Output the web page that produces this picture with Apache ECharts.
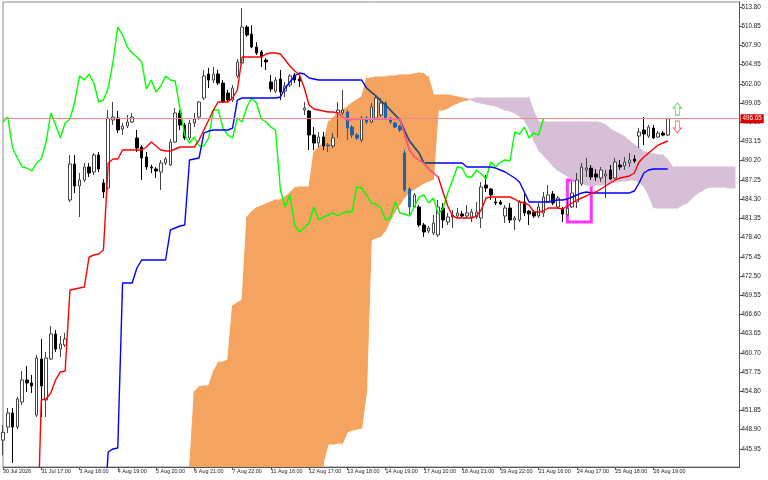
<!DOCTYPE html>
<html><head><meta charset="utf-8">
<script src="https://cdn.jsdelivr.net/npm/echarts@6/dist/echarts.min.js"></script>
<style>html,body{margin:0;padding:0;background:#fff}#c{width:768px;height:480px}</style>
</head><body><div id="c"></div>
<script>
// ---- tick labels ----
const tickLabels = ['30 Jul 2026','31 Jul 17:00','3 Aug 18:00','4 Aug 19:00','5 Aug 20:00','6 Aug 21:00','7 Aug 22:00','11 Aug 16:00','12 Aug 17:00','13 Aug 18:00','14 Aug 19:00','17 Aug 20:00','18 Aug 21:00','19 Aug 22:00','21 Aug 16:00','24 Aug 17:00','25 Aug 18:00','26 Aug 19:00'];
const yTicks = [513.80,510.85,507.90,504.95,502.00,499.05,496.10,493.15,490.20,487.25,484.30,481.35,478.40,475.45,472.50,469.55,466.60,463.65,460.70,457.75,454.80,451.85,448.90,445.95];
const lastPrice = 496.65;

// ---- candles (bars 0..139) ----
const opens = [447.3,449.31,451.47,449.31,453.16,456.54,456.08,451.16,459.76,453.47,459.76,463.60,461.29,461.91,484.17,489.70,486.32,487.24,489.24,488.47,491.08,486.78,486.01,496.45,496.76,495.07,495.53,496.15,493.69,492.31,490.78,489.24,488.93,488.47,489.85,489.54,493.07,497.53,495.68,493.69,495.99,496.91,499.83,503.51,502.59,503.51,502.13,500.60,499.52,503.21,505.20,510.73,509.66,507.66,506.89,505.66,502.29,500.90,502.75,500.90,501.83,503.36,502.75,497.99,497.83,494.15,492.92,493.84,492.61,492.46,497.53,497.53,497.68,495.37,494.15,493.38,496.76,496.15,496.76,497.22,499.06,496.76,495.99,495.53,491.39,485.86,483.10,483.10,480.33,479.41,479.11,478.80,482.94,480.79,481.56,481.71,482.02,481.71,481.56,481.56,481.41,486.47,485.86,483.86,483.86,481.71,482.94,481.10,481.10,483.86,482.48,482.33,481.71,482.18,483.86,485.09,483.10,482.79,481.90,483.10,483.86,486.62,488.78,489.08,488.16,487.55,487.86,488.78,487.55,489.54,489.39,489.85,490.47,493.99,494.92,493.99,495.22,493.84,494.45,494.15];
const highs = [449.6,452.24,452.24,453.93,457.92,458.69,457.31,460.37,462.83,460.84,464.83,464.21,463.29,463.75,491.08,491.08,488.32,489.85,489.85,491.39,491.54,487.39,497.99,499.22,497.83,495.99,497.22,497.53,494.92,492.60,491.54,489.60,489.24,490.31,490.78,493.53,498.29,497.99,495.99,496.45,497.53,499.37,504.13,504.43,504.60,504.13,502.59,501.06,501.83,505.82,513.65,511.00,511.00,508.40,507.20,505.97,503.36,503.05,504.13,502.29,503.51,503.67,503.40,499.22,497.99,495.37,494.61,494.61,492.92,494.45,499.22,501.06,497.99,495.68,494.45,497.07,497.07,499.06,500.14,499.83,499.37,496.91,496.15,495.68,491.85,486.17,485.25,483.40,480.64,480.18,481.87,484.17,483.71,482.18,482.64,482.94,482.48,483.40,482.79,483.86,486.93,488.01,486.01,484.48,484.17,483.40,483.71,481.71,484.17,485.09,482.64,482.64,483.71,485.40,486.47,485.55,484.79,483.10,484.17,487.00,488.32,489.85,490.62,489.54,488.90,489.24,488.78,489.54,490.62,490.31,490.78,491.39,491.08,495.22,496.91,495.68,495.68,494.76,494.76,496.76];
const lows = [445.0,448.40,443.80,449.00,452.70,454.70,454.54,450.86,450.86,450.86,459.61,460.84,460.07,461.60,483.86,485.25,481.56,486.93,487.70,488.01,488.47,484.48,485.71,495.68,494.45,494.15,495.22,495.99,491.54,487.24,488.80,488.30,487.55,485.71,489.54,489.39,492.92,494.92,493.38,493.38,495.37,496.45,499.52,501.36,502.13,501.83,499.06,499.22,499.22,502.90,504.89,509.20,507.50,506.43,504.60,504.13,500.75,500.60,499.52,499.98,501.52,502.13,501.50,497.22,491.85,491.85,492.31,491.85,491.54,492.15,493.70,497.22,493.38,493.69,493.38,493.07,495.84,495.99,496.45,496.91,496.45,495.84,495.22,494.61,485.40,481.87,482.94,480.02,478.49,479.11,478.80,478.49,479.87,480.33,479.87,481.41,481.56,481.41,480.79,481.25,479.87,485.40,484.17,483.40,483.40,480.64,480.64,479.57,480.79,481.71,480.33,481.41,481.41,481.56,483.71,483.40,482.79,480.79,481.87,482.94,482.94,486.32,487.70,487.24,487.10,486.93,484.48,487.24,487.39,488.78,488.78,489.24,489.85,492.15,492.61,493.69,493.53,493.69,493.99,493.99];
const closes = [448.5,451.47,449.31,453.62,456.54,456.08,455.62,459.91,455.62,459.91,463.60,461.29,462.06,462.83,489.70,486.32,487.24,489.24,488.32,491.08,488.93,485.40,496.76,496.91,494.92,495.53,496.15,496.91,492.15,490.62,489.24,489.08,488.62,489.85,490.47,493.07,497.53,495.68,493.69,495.99,496.61,499.22,503.21,502.59,503.51,502.13,499.22,499.52,501.36,505.36,510.73,509.50,507.66,506.74,506.12,505.36,501.21,502.59,500.75,501.67,503.21,502.59,502.44,498.29,494.15,492.92,493.84,492.46,492.46,493.69,497.99,497.99,495.22,494.15,493.69,496.76,496.15,498.45,499.83,499.06,496.61,496.15,495.37,494.92,485.71,483.10,484.94,480.33,479.26,479.87,480.64,483.10,481.10,481.56,481.87,482.18,481.71,482.18,482.33,482.33,486.17,486.01,484.94,483.71,483.56,482.94,481.10,481.41,483.86,482.18,482.02,481.71,483.10,484.63,484.94,483.71,484.48,482.02,482.90,485.25,487.24,489.24,489.08,487.70,487.70,488.78,488.16,487.39,490.00,489.24,490.00,490.31,490.16,494.61,494.30,495.37,493.69,494.45,494.15,496.65];

// ---- Ichimoku lines ----
const tenkanStart = 7;
const tenkanVals = [427.0,453.47,453.62,454.54,456.54,457.77,457.92,470.35,470.51,470.66,470.81,475.42,475.73,475.88,476.50,489.85,490.47,490.47,491.85,491.85,491.85,491.85,491.85,492.31,493.07,492.46,491.85,491.69,491.69,492.00,492.31,492.31,492.31,492.31,493.38,494.92,496.45,497.99,499.22,499.22,499.22,499.83,501.06,506.12,506.12,506.12,506.12,506.12,506.59,506.74,506.74,506.59,505.66,504.74,503.98,503.36,501.37,498.76,498.14,497.99,497.83,497.68,497.68,497.53,496.91,496.45,496.55,496.55,496.55,496.55,496.55,496.55,496.55,496.55,496.55,496.55,496.55,494.15,491.85,490.78,490.31,489.85,488.93,488.32,487.70,485.40,483.25,481.71,481.41,481.41,481.41,481.41,481.71,482.64,484.48,484.63,484.63,484.63,484.63,484.63,484.32,483.86,483.71,483.40,482.33,482.33,482.48,482.94,482.94,482.94,482.79,483.25,483.71,484.17,484.48,484.79,485.25,485.40,485.86,486.32,486.78,487.24,487.55,487.70,487.86,488.32,490.00,490.78,491.39,492.00,492.61,492.92,493.23];
const kijunStart = 21;
const kijunVals = [434.3,445.48,445.95,446.10,471.43,471.43,471.43,473.73,474.96,474.96,474.96,474.96,474.96,474.96,479.57,479.87,480.18,480.33,490.31,490.47,490.62,494.45,494.76,494.92,494.92,494.92,494.92,495.22,499.52,499.83,499.83,499.83,499.83,499.83,499.83,499.83,499.83,499.98,501.37,502.29,503.21,503.67,503.51,502.90,502.75,502.59,502.59,502.59,502.59,502.59,502.59,502.59,502.59,502.59,502.59,501.37,500.75,500.14,499.37,498.76,497.99,497.22,496.45,494.76,493.23,492.31,491.39,489.85,489.85,489.85,489.85,489.85,489.85,489.85,489.85,489.85,489.24,489.24,489.24,489.24,489.24,489.24,489.08,488.78,488.47,488.01,487.55,486.93,485.40,483.86,483.86,483.86,483.86,483.86,484.02,484.17,484.17,484.32,484.63,484.94,485.25,485.40,485.25,485.25,485.25,485.25,485.25,485.25,485.25,485.25,485.25,485.55,486.78,488.32,488.78,488.93,488.93,488.93,488.93];
const chikouStart = 0;
const chikouVals = [496.15,496.91,492.15,490.62,489.24,489.08,488.62,489.85,490.47,493.07,497.53,495.68,493.69,495.99,496.61,499.22,503.21,502.59,503.51,502.13,499.22,499.52,501.36,505.36,510.73,509.50,507.66,506.74,506.12,505.36,501.21,502.59,500.75,501.67,503.21,502.59,502.44,498.29,494.15,492.92,493.84,492.46,492.46,493.69,497.99,497.99,495.22,494.15,493.69,496.76,496.15,498.45,499.83,499.06,496.61,496.15,495.37,494.92,485.71,483.10,484.94,480.33,479.26,479.87,480.64,483.10,481.10,481.56,481.87,482.18,481.71,482.18,482.33,482.33,486.17,486.01,484.94,483.71,483.56,482.94,481.10,481.41,483.86,482.18,482.02,481.71,483.10,484.63,484.94,483.71,484.48,482.02,482.90,485.25,487.24,489.24,489.08,487.70,487.70,488.78,488.16,487.39,490.00,489.24,490.00,490.31,490.16,494.61,494.30,495.37,493.69,494.45,494.15,496.65];
const spanStart = 39;
const spanAVals = [442.72,454.70,455.46,455.62,455.62,457.77,459.15,459.30,459.61,467.90,468.36,468.82,481.56,482.33,482.94,483.25,483.56,483.86,484.17,484.17,484.63,485.25,486.01,486.17,486.17,486.17,491.54,492.31,492.92,495.99,496.76,497.53,497.99,498.45,499.06,499.52,499.98,502.75,502.90,503.05,503.05,503.05,503.21,503.21,503.36,503.36,503.36,503.51,503.67,503.51,502.90,500.29,500.29,500.29,500.29,500.14,499.98,499.83,499.68,499.52,499.22,499.06,498.91,498.76,498.60,498.29,497.99,497.83,497.53,497.07,496.45,495.22,493.38,491.85,491.08,490.31,489.39,488.78,488.32,487.86,487.39,487.09,486.78,486.47,486.32,486.47,486.47,486.63,486.78,486.93,487.09,487.09,487.24,487.24,486.93,486.32,484.94,483.10,482.94,482.94,482.94,482.94,482.94,483.40,483.71,484.48,485.09,485.55,486.01,486.17,486.17,486.17,486.17,486.01,486.01,486.01];
const spanBVals = [438,438,438,438,438,438,438,438,438,438,438,438,438,438,438,438,438,438,438,438,438,438,438,438,438,438,438,438,443.95,446.71,446.71,446.87,446.87,448.55,448.86,449.01,449.17,454.70,478.03,478.34,478.64,479.57,481.10,482.48,483.56,484.63,485.40,485.86,486.32,486.78,487.09,487.39,497.99,497.99,498.29,498.76,499.06,499.37,499.52,499.68,499.83,499.83,499.83,499.83,499.83,499.83,499.83,499.83,499.83,499.83,499.83,499.83,497.68,496.15,496.15,496.15,496.15,496.15,496.15,496.15,496.15,496.15,496.15,496.15,496.15,496.15,495.99,495.69,495.07,494.61,494.30,493.84,493.23,492.62,492.15,491.54,491.39,491.23,491.08,491.08,490.31,489.24,489.24,489.24,489.24,489.24,489.24,489.24,489.24,489.24,489.24,489.24,489.24,489.24,489.24];

// ---- signals / highlight ----
const signalUp = [[141, 498.14]];
const signalDown = [[141, 495.38]];
const boxBars = ['118', '123'];
const boxPrices = [487.24, 480.79];

// ---- build ----
const N = 155;
const UP_KUMO = '#f4a460', DOWN_KUMO = '#d8bfd8';
const cats = Array.from({length: N}, (_, i) => String(i));
function pad(start, vals) {
  const a = new Array(N).fill(null);
  vals.forEach((v, k) => { if (start + k < N) a[start + k] = v; });
  return a;
}
const ten = pad(tenkanStart, tenkanVals);
const kij = pad(kijunStart, kijunVals);
const chi = pad(chikouStart, chikouVals);
const sA = pad(spanStart, spanAVals);
const sB = pad(spanStart, spanBVals);
// cloud segments: [i, A_i, B_i, A_i+1, B_i+1]
const kumoSegs = [];
for (let i = 0; i < N - 1; i++) {
  if (sA[i] != null && sA[i + 1] != null) kumoSegs.push([i, sA[i], sB[i], sA[i + 1], sB[i + 1]]);
}
function inOrange(v, i) {
  const a = sA[i], b = sB[i];
  return v != null && a != null && a > b && v <= a && v >= b;
}
function overlay(arr) {
  return arr.map((v, i) => (inOrange(v, i) || (i > 0 && inOrange(arr[i - 1], i - 1))) ? v : null);
}
const candles = opens.map((o, i) => {
  const item = {value: [o, closes[i], lows[i], highs[i]]};
  if (closes[i] < o && inOrange(o, i)) item.itemStyle = {color0: '#2163a8', borderColor0: '#2163a8'};
  return item;
});

function poly(points, color) {
  return {type: 'polygon', shape: {points: points}, style: {fill: color, stroke: color, lineWidth: 1.1}};
}
function renderKumo(params, api) {
  const i = api.value(0), a0 = api.value(1), b0 = api.value(2), a1 = api.value(3), b1 = api.value(4);
  const PA0 = api.coord([i, a0]), PB0 = api.coord([i, b0]);
  const PA1 = api.coord([i + 1, a1]), PB1 = api.coord([i + 1, b1]);
  const d0 = a0 - b0, d1 = a1 - b1;
  const children = [];
  if (d0 * d1 >= 0) {
    children.push(poly([PA0, PA1, PB1, PB0], (d0 + d1) >= 0 ? UP_KUMO : DOWN_KUMO));
  } else {
    const t = d0 / (d0 - d1);
    const X = [PA0[0] + t * (PA1[0] - PA0[0]), PA0[1] + t * (PA1[1] - PA0[1])];
    children.push(poly([PA0, X, PB0], d0 > 0 ? UP_KUMO : DOWN_KUMO));
    children.push(poly([X, PA1, PB1], d1 > 0 ? UP_KUMO : DOWN_KUMO));
  }
  return {type: 'group', children: children};
}

const chart = echarts.init(document.getElementById('c'), null, {renderer: 'canvas'});
const lineBase = {type: 'line', symbol: 'none', showSymbol: false, connectNulls: false, animation: false, silent: true};
chart.setOption({
  animation: false,
  backgroundColor: '#ffffff',
  grid: {left: 1.5, right: 28.5, top: 2, bottom: 13, show: true, borderColor: '#8a8a8a', borderWidth: 1},
  xAxis: {
    type: 'category', data: cats, boundaryGap: false,
    axisLine: {lineStyle: {color: '#555', width: 1}},
    axisTick: {show: true, length: 3, interval: (i) => i % 8 === 0 && i / 8 < tickLabels.length, lineStyle: {color: '#555'}},
    axisLabel: {interval: (i) => i % 8 === 0 && i / 8 < tickLabels.length, formatter: (v, i) => tickLabels[i / 8] || '',
      fontSize: 5.4, fontFamily: 'Liberation Sans', color: '#222', align: 'left', margin: 2},
    splitLine: {show: false}
  },
  yAxis: {
    type: 'value', position: 'right', min: 443.18, max: 514.57, scale: true,
    splitLine: {show: false},
    axisLine: {show: true, lineStyle: {color: '#555', width: 1}},
    axisTick: {show: true, length: 3, customValues: yTicks, lineStyle: {color: '#555'}},
    axisLabel: {customValues: yTicks, formatter: (v) => Number(v).toFixed(2), fontSize: 6.3, fontFamily: 'Liberation Sans', color: '#222', margin: 2}
  },
  series: [
    {type: 'custom', name: 'kumo', data: kumoSegs, renderItem: renderKumo, clip: true, silent: true, z: 1,
      encode: {x: 0, y: [1, 2]}},
    {
      type: 'candlestick', name: 'price', data: candles, barWidth: 3, z: 3, silent: true,
      itemStyle: {color: '#ffffff', color0: '#000000', borderColor: '#444', borderColor0: '#000000', borderWidth: 1},
      markLine: {silent: true, symbol: ['none', 'none'], animation: false,
        lineStyle: {color: '#f08a8a', width: 1, type: 'solid'},
        label: {position: 'end', formatter: lastPrice.toFixed(2), backgroundColor: '#e00000', color: '#fff', fontSize: 6.3, fontFamily: 'Liberation Sans', padding: [2, 2, 1, 2], distance: 1},
        data: [{yAxis: lastPrice}]},
      markArea: {silent: true, itemStyle: {color: 'rgba(0,0,0,0)', borderColor: '#ff33ff', borderWidth: 3},
        data: [[{xAxis: boxBars[0], yAxis: boxPrices[0]}, {xAxis: boxBars[1], yAxis: boxPrices[1]}]]}
    },
    Object.assign({}, lineBase, {name: 'chikou', data: chi, lineStyle: {color: '#00ff00', width: 1.4}, z: 4}),
    Object.assign({}, lineBase, {name: 'kijun', data: kij, lineStyle: {color: '#0000ff', width: 1.4}, z: 4}),
    Object.assign({}, lineBase, {name: 'kijunIn', data: overlay(kij), lineStyle: {color: '#2f5f5a', width: 1.4}, z: 5}),
    Object.assign({}, lineBase, {name: 'tenkan', data: ten, lineStyle: {color: '#ff0000', width: 1.4}, z: 4}),
    Object.assign({}, lineBase, {name: 'tenkanIn', data: overlay(ten), lineStyle: {color: '#f2649a', width: 1.4}, z: 5}),
    {type: 'scatter', name: 'up', data: signalUp, silent: true, z: 6,
      symbol: 'path://M4,0 L8,5 L6,5 L6,12 L2,12 L2,5 L0,5 Z', symbolSize: [8, 12],
      itemStyle: {color: '#ffffff', borderColor: '#3ccc3c', borderWidth: 1}},
    {type: 'scatter', name: 'down', data: signalDown, silent: true, z: 6,
      symbol: 'path://M2,0 L6,0 L6,7 L8,7 L4,12 L0,7 L2,7 Z', symbolSize: [8, 12],
      itemStyle: {color: '#ffffff', borderColor: '#ff4040', borderWidth: 1}}
  ]
});
</script>
</body></html>
